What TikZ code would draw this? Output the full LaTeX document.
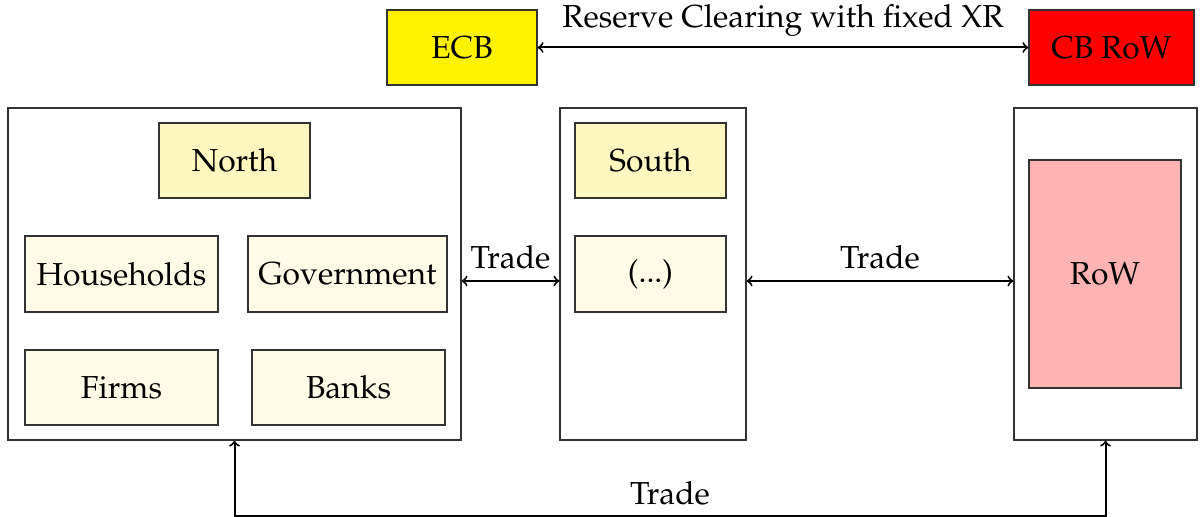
\documentclass[tikz,border=0pt]{standalone}
\usepackage[T1]{fontenc}
\usepackage{mathpazo}
\definecolor{headfill}{RGB}{255,247,192}
\definecolor{subfill}{RGB}{255,251,230}
\definecolor{rowfill}{RGB}{255,179,179}
\begin{document}
\begin{tikzpicture}[x=0.5pt,y=-0.5pt,
  every node/.style={font=\fontsize{15.9}{19}\selectfont},
  bx/.style={draw=black!80, line width=0.6pt, inner sep=0pt},
  outer/.style={bx, fill=white},
  head/.style={bx, fill=headfill},
  sub/.style={bx, fill=subfill},
  arr/.style={<->, line width=1pt, black},
  lab/.style={midway, anchor=base}]
\useasboundingbox (0,0) rectangle (1203,517);
% central banks
\node[bx, fill=yellow, minimum width=75pt, minimum height=37.5pt] (ecb) at (462,47.5) {ECB};
\node[bx, fill=red, minimum width=82.5pt, minimum height=37.5pt] (cbrow) at (1111.5,47.5) {CB RoW};
% outer boxes
\node[outer, minimum width=226.5pt, minimum height=166pt] (northbox) at (234.5,274) {};
\node[outer, minimum width=93pt, minimum height=166pt] (midbox) at (653,274) {};
\node[outer, minimum width=91.5pt, minimum height=166pt] (rowbox) at (1105.5,274) {};
% inner nodes
\node[head, minimum width=75.5pt, minimum height=37.5pt] (north) at (234.5,160.5) {North};
\node[sub, minimum width=96.5pt, minimum height=38pt] (hh) at (121.5,274) {Households};
\node[sub, minimum width=99.5pt, minimum height=38pt] (gov) at (347.5,274) {Government};
\node[sub, minimum width=96.5pt, minimum height=37.5pt] (firms) at (121.5,387.5) {Firms};
\node[sub, minimum width=96.5pt, minimum height=37.5pt] (banks) at (348.5,387.5) {Banks};
\node[head, minimum width=75.5pt, minimum height=37.5pt] (south) at (650.5,160.5) {South};
\node[sub, minimum width=75.5pt, minimum height=38pt] (dots) at (650.5,274) {(...)};
\node[bx, fill=rowfill, minimum width=76pt, minimum height=114pt] (row) at (1105,274) {RoW};
% connectors
\draw[arr] (ecb.east) -- node[lab, yshift=10pt] {Reserve Clearing with fixed XR} (cbrow.west);
\draw[arr] ([yshift=-3.5pt]northbox.east) -- node[lab, yshift=6pt] {Trade} ([yshift=-3.5pt]midbox.west);
\draw[arr] ([yshift=-3.5pt]midbox.east) -- node[lab, yshift=6pt] {Trade} ([yshift=-3.5pt]rowbox.west);
\coordinate (bl) at (234.5,516);
\coordinate (br) at (1105.5,516);
\draw[arr] (northbox.south) -- (bl) -- node[lab, yshift=6pt] {Trade} (br) -- (rowbox.south);
\end{tikzpicture}
\end{document}
